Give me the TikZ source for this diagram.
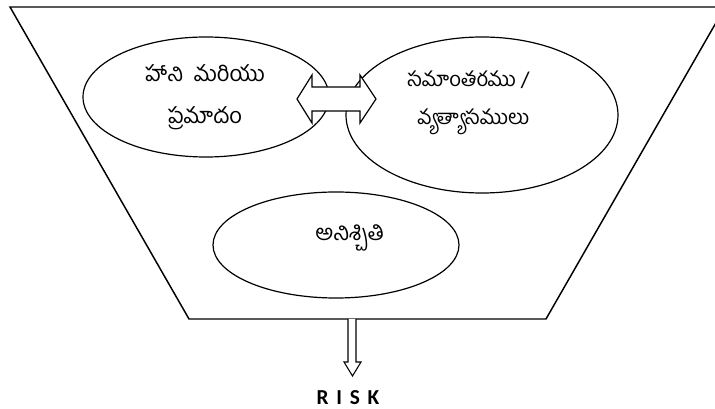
\documentclass[tikz,border=0pt]{standalone}
\usepackage{fontspec}
\setmainfont{Carlito}
\newfontfamily\telugu[Script=Telugu]{Hind Guntur}
\usetikzlibrary{shapes.geometric}
\begin{document}
\begin{tikzpicture}[x=0.75pt,y=-0.75pt,
  outline/.style={draw=black,line width=1.1pt},
  oval/.style={ellipse,draw=black,line width=0.9pt,inner sep=0pt},
  tel/.style={font=\telugu\fontsize{16.5}{18}\selectfont,inner sep=0pt},
  telsmall/.style={font=\telugu\fontsize{15.3}{18}\selectfont,inner sep=0pt},
  blockarrow/.style={draw=black,line width=0.9pt,fill=white,line join=miter}]
\useasboundingbox (0,0) rectangle (715,409);
% trapezoid
\coordinate (tl) at (10,7);
\coordinate (tr) at (725,7);
\coordinate (br) at (546,319);
\coordinate (bl) at (189,319);
\draw[outline] (tl) -- (tr) -- (br) -- (bl) -- cycle;
% ellipses
\node[oval,minimum width=184.5pt,minimum height=90pt] (harm) at (206,97) {};
\node[oval,minimum width=204pt,minimum height=117pt] (var) at (482,115) {};
\node[oval,minimum width=184.5pt,minimum height=79.5pt] (unc) at (336,245) {};
% texts
\node[tel] (t1) at (205,73) {హాని \ మరియు};
\node[tel] (t2) at (205,118) {ప్రమాదం};
\node[telsmall,anchor=west] (t3) at (407,80) {సమాంతరము /};
\node[telsmall,anchor=west] (t4) at (417,122) {వ్యత్యాసములు};
\node[tel] (t5) at (350,238) {అనిశ్చితి};
% double arrow between ellipses
\draw[blockarrow] (297,99) -- (312,75) -- (312,87) -- (360,87) -- (360,75)
  -- (376,99) -- (360,123) -- (360,111) -- (312,111) -- (312,123) -- cycle;
% risk
\node[font=\bfseries\fontsize{16}{18}\selectfont,inner sep=0pt] (risk) at (348,398) {R\hspace{5.8pt}I\hspace{5.8pt}S\hspace{5.8pt}K};
\draw[blockarrow,line width=0.8pt] (348,319) -- (348,362) -- (344,362) -- (352.5,376)
  -- (361,362) -- (356,362) -- (356,319);
\end{tikzpicture}
\end{document}
